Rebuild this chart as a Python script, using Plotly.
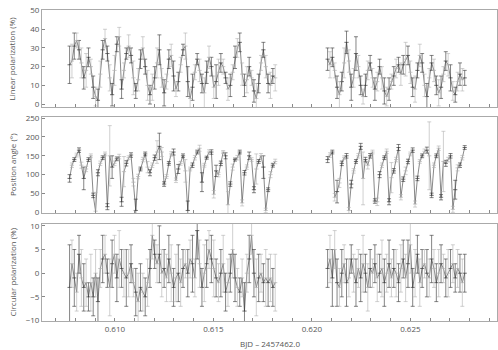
import plotly.graph_objects as go
from plotly.subplots import make_subplots

# BJD - 2457462.0, first and second run
time_a = [0.60770, 0.60782, 0.60794, 0.60806, 0.60818, 0.60830, 0.60842, 0.60854, 0.60866, 0.60878,
          0.60890, 0.60902, 0.60914, 0.60926, 0.60938, 0.60950, 0.60962, 0.60974, 0.60986, 0.60998,
          0.61010, 0.61022, 0.61034, 0.61046, 0.61058, 0.61070, 0.61082, 0.61094, 0.61106, 0.61118,
          0.61130, 0.61142, 0.61154, 0.61166, 0.61178, 0.61190, 0.61202, 0.61214, 0.61226, 0.61238,
          0.61250, 0.61262, 0.61274, 0.61286, 0.61298, 0.61310, 0.61322, 0.61334, 0.61346, 0.61358,
          0.61370, 0.61382, 0.61394, 0.61406, 0.61418, 0.61430, 0.61442, 0.61454, 0.61466, 0.61478,
          0.61490, 0.61502, 0.61514, 0.61526, 0.61538, 0.61550, 0.61562, 0.61574, 0.61586, 0.61598,
          0.61610, 0.61622, 0.61634, 0.61646, 0.61658, 0.61670, 0.61682, 0.61694, 0.61706, 0.61718,
          0.61730, 0.61742, 0.61754, 0.61766, 0.61778, 0.61790, 0.61802, 0.61814]
time_b = [0.62080, 0.62092, 0.62104, 0.62116, 0.62128, 0.62140, 0.62152, 0.62164, 0.62176, 0.62188,
          0.62200, 0.62212, 0.62224, 0.62236, 0.62248, 0.62260, 0.62272, 0.62284, 0.62296, 0.62308,
          0.62320, 0.62332, 0.62344, 0.62356, 0.62368, 0.62380, 0.62392, 0.62404, 0.62416, 0.62428,
          0.62440, 0.62452, 0.62464, 0.62476, 0.62488, 0.62500, 0.62512, 0.62524, 0.62536, 0.62548,
          0.62560, 0.62572, 0.62584, 0.62596, 0.62608, 0.62620, 0.62632, 0.62644, 0.62656, 0.62668,
          0.62680, 0.62692, 0.62704, 0.62716, 0.62728, 0.62740, 0.62752, 0.62764, 0.62776]

# linear polarization (%)
lin_a = [21, 23, 31, 34, 29, 22, 14, 18, 25, 20, 9, 4, 2, 16, 29, 35, 27, 14, 5, 18,
         32, 36, 8, 18, 27, 31, 26, 14, 7, 13, 24, 30, 20, 10, 5, 9, 14, 22, 29, 14,
         6, 12, 24, 26, 15, 8, 12, 21, 29, 31, 12, 3, 9, 17, 24, 18, 11, 6, 17, 25,
         20, 9, 12, 17, 22, 20, 14, 8, 10, 17, 25, 30, 33, 16, 10, 13, 20, 14, 7, 3,
         11, 22, 29, 20, 11, 10, 15, 14]
lin_a_err = [10, 9, 7, 4, 5, 8, 6, 9, 5, 4, 6, 5, 6, 7, 5, 5, 4, 7, 6, 8,
             4, 5, 5, 4, 3, 6, 4, 9, 4, 6, 5, 6, 4, 8, 5, 7, 6, 8, 8, 5,
             7, 4, 5, 6, 8, 4, 5, 4, 3, 7, 8, 5, 7, 4, 3, 6, 5, 8, 6, 6,
             5, 6, 9, 7, 5, 4, 3, 6, 6, 4, 6, 5, 5, 6, 6, 7, 5, 4, 6, 8,
             5, 4, 4, 6, 5, 7, 4, 7]
lin_b = [24, 21, 25, 18, 9, 5, 12, 22, 33, 23, 9, 14, 27, 20, 10, 4, 10, 18, 22, 14,
         8, 12, 20, 14, 7, 4, 8, 12, 15, 19, 21, 16, 21, 24, 26, 17, 9, 8, 18, 26,
         22, 10, 4, 14, 22, 18, 10, 6, 9, 16, 23, 21, 14, 7, 5, 12, 16, 13, 14]
lin_b_err = [6, 7, 5, 4, 6, 7, 5, 8, 6, 6, 7, 5, 9, 6, 5, 4, 6, 5, 4, 5,
             6, 5, 4, 6, 7, 5, 6, 4, 5, 5, 4, 6, 5, 9, 5, 6, 5, 7, 4, 6,
             5, 6, 7, 5, 4, 6, 5, 7, 6, 4, 5, 6, 7, 5, 4, 5, 6, 6, 4]

# position angle (deg)
pa_a = [90, 125, 140, 152, 165, 125, 90, 115, 140, 150, 45, 3, 105, 130, 145, 155, 15, 150, 120, 130,
        142, 148, 28, 108, 130, 145, 152, 80, 5, 95, 115, 140, 155, 120, 105, 125, 145, 160, 175, 160,
        75, 95, 130, 155, 160, 85, 115, 130, 150, 110, 5, 115, 125, 145, 160, 170, 80, 125, 145, 160,
        160, 48, 110, 100, 130, 160, 150, 20, 75, 120, 140, 145, 160, 25, 105, 120, 150, 140, 60, 115,
        135, 150, 120, 5, 60, 100, 125, 135]
pa_a_err = [10, 6, 5, 5, 6, 8, 30, 7, 5, 5, 6, 50, 8, 6, 5, 5, 8, 80, 30, 6,
            5, 6, 12, 40, 7, 5, 6, 10, 30, 6, 5, 6, 5, 15, 8, 6, 7, 30, 35, 12,
            6, 5, 5, 6, 8, 6, 12, 5, 5, 30, 25, 5, 6, 6, 5, 8, 25, 5, 4, 6,
            6, 10, 15, 6, 6, 4, 8, 35, 6, 8, 4, 6, 5, 8, 6, 6, 10, 5, 8, 40,
            5, 6, 30, 6, 5, 8, 5, 6]
pa_b = [140, 152, 160, 40, 55, 78, 130, 145, 150, 5, 75, 110, 135, 150, 175, 90, 140, 125, 150, 160,
        30, 28, 100, 125, 145, 162, 28, 92, 110, 140, 172, 40, 88, 110, 135, 155, 165, 22, 90, 135,
        150, 162, 165, 150, 45, 125, 150, 170, 40, 135, 130, 140, 150, 8, 60, 118, 125, 145, 172]
pa_b_err = [8, 6, 5, 10, 30, 12, 6, 5, 6, 8, 10, 6, 5, 6, 8, 70, 6, 10, 6, 5,
            6, 10, 8, 6, 5, 6, 8, 40, 6, 6, 8, 7, 6, 10, 6, 5, 6, 8, 6, 5,
            5, 6, 8, 90, 6, 6, 5, 6, 7, 80, 8, 6, 6, 8, 25, 8, 6, 6, 5]

# circular polarization (%)
circ_a = [-3, 2, -1, -4, 4, -1, -3, -2, -5, -2, -5, 0, -6, 1, 3, 4, 0, -3, 2, 4,
          -1, 3, 1, 0, -1, 0, 2, -2, -4, -6, -3, -4, -5, -2, 1, 8, 4, 2, 4, 0,
          1, -1, 3, 0, -3, -1, 0, -2, 1, 2, 0, 3, 2, -1, 9, 2, -3, 0, 2, 5,
          3, 1, -1, -2, 0, 2, -4, -2, 0, 5, -1, -3, -4, -1, -8, 0, 3, 8, 0, -3,
          -1, 0, -2, -1, -2, -1, -3, -2]
circ_a_err = [9, 5, 6, 4, 4, 6, 5, 5, 3, 6, 4, 5, 5, 4, 5, 4, 3, 6, 5, 4,
              5, 6, 4, 5, 6, 5, 4, 3, 5, 6, 5, 4, 4, 5, 4, 5, 3, 4, 6, 5,
              4, 5, 5, 6, 4, 5, 6, 5, 4, 3, 5, 4, 6, 4, 6, 5, 4, 6, 5, 4,
              5, 6, 4, 4, 5, 6, 4, 5, 4, 6, 5, 4, 3, 4, 6, 4, 5, 4, 5, 6,
              5, 4, 4, 6, 5, 5, 4, 6]
circ_b = [1, 3, -1, 5, -2, -3, 0, 2, -2, -1, 3, 0, -2, 1, -1, 2, 0, -3, 1, 0,
          2, -1, 0, 1, -2, 0, 2, -1, 1, 0, -2, 1, 3, -1, 2, 6, -3, 0, 4, -2,
          1, 2, 0, -1, 3, 1, -2, 0, 2, 1, -1, 0, 1, 2, -1, 1, 0, -2, 0]
circ_b_err = [4, 5, 6, 4, 5, 4, 5, 4, 5, 4, 3, 4, 5, 4, 5, 6, 4, 5, 4, 3,
              4, 5, 4, 6, 5, 4, 5, 4, 4, 5, 4, 5, 4, 5, 5, 6, 4, 5, 4, 5,
              4, 3, 5, 4, 5, 4, 4, 5, 4, 3, 4, 5, 4, 4, 3, 4, 4, 5, 4]

y_titles = ["Linear polarization (%)", "Position angle (°)", "Circular polarization (%)"]
x_title = "BJD – 2457462.0"

font = dict(family="Open Sans", size=8, color="#555")

fig = make_subplots(rows=3, cols=1, shared_xaxes=True, vertical_spacing=0.035)


def add_panel(row, v_a, e_a, v_b, e_b):
    # connecting line, broken between the two runs
    fig.add_trace(go.Scatter(x=time_a + [None] + time_b, y=v_a + [None] + v_b,
                             mode="lines", line=dict(color="#555", width=0.7),
                             hoverinfo="skip"), row=row, col=1)
    # alternate points in black and grey
    for k, color in [(0, "#333"), (1, "#b0b0b0")]:
        fig.add_trace(go.Scatter(
            x=time_a[k::2] + time_b[k::2],
            y=v_a[k::2] + v_b[k::2],
            mode="markers",
            marker=dict(symbol="line-ew", size=3, line=dict(color=color, width=0.7)),
            error_y=dict(type="data", array=e_a[k::2] + e_b[k::2],
                         color=color, thickness=0.6, width=2)
        ), row=row, col=1)


add_panel(1, lin_a, lin_a_err, lin_b, lin_b_err)
add_panel(2, pa_a, pa_a_err, pa_b, pa_b_err)
add_panel(3, circ_a, circ_a_err, circ_b, circ_b_err)

axis_style = dict(showline=True, linecolor="#aaa", linewidth=1, mirror=True,
                  ticks="inside", ticklen=3, tickcolor="#888", showgrid=False,
                  zeroline=False, tickfont=font, automargin=False)

for r in range(1, 4):
    fig.update_xaxes(range=[0.6063, 0.6294], dtick=0.005, tickformat=".3f",
                     minor=dict(dtick=0.001, ticks="inside", ticklen=3, tickcolor="#888"),
                     row=r, col=1, **axis_style)

# panel edges in page pixels: 10-107, 117-213, 224-321 (plot area 10-321)
fig.update_yaxes(range=[-1.6, 50.3], dtick=10, domain=[0.688, 1.0], row=1, col=1, **axis_style)
fig.update_yaxes(range=[-2, 253], dtick=50, domain=[0.347, 0.656], row=2, col=1, **axis_style)
fig.update_yaxes(range=[-10.1, 10.4], dtick=5, domain=[0.0, 0.312], row=3, col=1, **axis_style)

# axis titles as annotations so they sit where the original has them
for i, yref in enumerate(["y domain", "y2 domain", "y3 domain"]):
    fig.add_annotation(text=y_titles[i], xref="paper", x=0, xshift=-30, xanchor="center",
                       yref=yref, y=0.5, yanchor="middle", textangle=-90,
                       showarrow=False, font=font)
fig.add_annotation(text=x_title, xref="paper", x=0.5, yref="paper", y=0, yshift=-22,
                   yanchor="middle", showarrow=False, font=font)

fig.update_layout(
    width=498, height=350,
    margin=dict(l=42, r=1, t=10, b=29),
    showlegend=False,
    plot_bgcolor="white",
    paper_bgcolor="white",
    font=font,
)

# drop the default body margin so the figure fills the window exactly
fig.write_html("out.html", config={"displayModeBar": False},
               post_script="document.body.style.margin = '0px';")
